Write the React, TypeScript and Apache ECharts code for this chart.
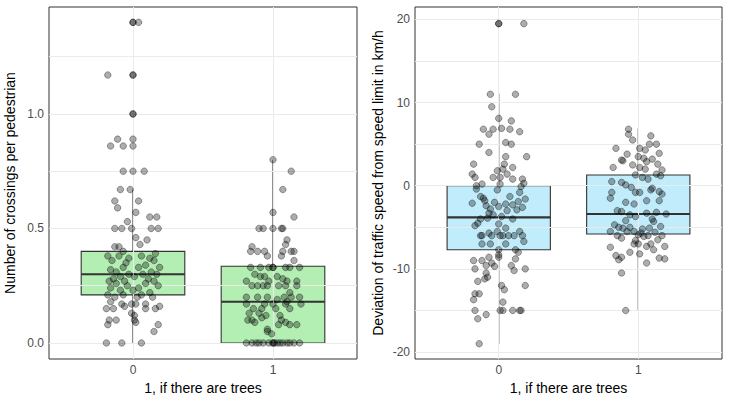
import React, { useEffect, useRef } from "react";
import * as echarts from "echarts";

const xLabel = "1, if there are trees";
const leftTitle = "Number of crossings per pedestrian";
const rightTitle = "Deviation of traffic speed from speed limit in km/h";
const categories = ["0", "1"];

// box stats: [x, q1, median, q3, whiskerLow, whiskerHigh]
const leftBoxes = [[0, 0.21, 0.3, 0.4, 0, 0.67], [1, 0, 0.18, 0.335, 0, 0.8]];
const rightBoxes = [[0, -7.7, -3.8, 0, -19, 11.1], [1, -5.8, -3.4, 1.3, -15, 6.9]];

const leftTicks = [0, 0.5, 1.0];
const leftGrid = [0, 0.25, 0.5, 0.75, 1.0, 1.25];
const rightTicks = [-20, -10, 0, 10, 20];
const rightGrid = [-20, -15, -10, -5, 0, 5, 10, 15, 20];

// [jitter, value]
const left0 = [[0,1.4],[0,1.4],[0.04,1.4],[-0.18,1.17],[0,1.17],[0,1.17],[0,1.0],[0,1.0],[-0.11,0.89],[0,0.89],[-0.16,0.86],[-0.07,0.86],[0,0.86],[-0.07,0.75],[0,0.75],[0.08,0.75],[-0.09,0.67],[-0.02,0.67],[-0.13,0.62],[0.04,0.62],[-0.11,0.59],[0.02,0.57],[0.12,0.55],[0.17,0.55],[-0.13,0.5],[-0.08,0.5],[-0.01,0.5],[0.13,0.5],[0.18,0.5],[-0.04,0.53],[0.02,0.46],[0.1,0.45],[0.05,0.43],[-0.13,0.42],[-0.1,0.42],[-0.07,0.4],[0.16,0.39],[-0.18,0.38],[-0.1,0.38],[-0.03,0.37],[0.06,0.38],[0.12,0.37],[0.15,0.36],[-0.15,0.36],[-0.05,0.35],[0.09,0.34],[0.19,0.33],[-0.07,0.33],[0.04,0.33],[-0.16,0.32],[-0.12,0.31],[0.13,0.31],[-0.03,0.3],[0.07,0.3],[0.17,0.3],[-0.09,0.29],[0.01,0.29],[0.11,0.28],[-0.14,0.28],[-0.17,0.27],[-0.06,0.27],[0.15,0.27],[0.09,0.26],[-0.12,0.26],[-0.04,0.25],[0.18,0.25],[0.04,0.24],[-0.16,0.24],[-0.09,0.23],[0,0.23],[0.12,0.22],[-0.18,0.21],[-0.07,0.21],[0.06,0.21],[-0.13,0.2],[0.03,0.2],[0.14,0.2],[-0.16,0.18],[-0.01,0.17],[0.09,0.17],[-0.08,0.17],[0.02,0.17],[-0.19,0.15],[-0.14,0.15],[-0.06,0.16],[0.09,0.15],[0.16,0.15],[0.19,0.16],[-0.01,0.13],[0.01,0.12],[-0.17,0.1],[-0.12,0.1],[0.01,0.1],[0.02,0.09],[-0.18,0.08],[0.18,0.08],[0.15,0.05],[-0.19,0],[-0.08,0],[0.06,0]];
const left1 = [[0,0.8],[0.13,0.75],[0.07,0.67],[0,0.57],[0.15,0.55],[-0.1,0.5],[-0.07,0.5],[0,0.5],[0.06,0.5],[0.07,0.5],[0.1,0.45],[0.09,0.43],[-0.15,0.42],[-0.16,0.4],[-0.11,0.4],[-0.06,0.4],[0.07,0.4],[0.13,0.4],[0.15,0.4],[-0.04,0.38],[0.06,0.38],[0.15,0.36],[-0.16,0.33],[-0.09,0.33],[-0.03,0.33],[0,0.33],[0,0.33],[0.09,0.33],[0.12,0.33],[0.19,0.33],[-0.13,0.3],[-0.09,0.29],[-0.06,0.29],[0.03,0.29],[0.07,0.28],[-0.19,0.27],[-0.03,0.27],[0.1,0.27],[0.17,0.27],[-0.15,0.25],[-0.11,0.25],[-0.07,0.25],[-0.04,0.25],[0.04,0.25],[0.09,0.25],[0.17,0.25],[0.12,0.22],[-0.19,0.2],[-0.11,0.2],[-0.04,0.2],[0.08,0.2],[0.13,0.2],[0.19,0.2],[0.03,0.19],[0.1,0.18],[-0.19,0.17],[-0.06,0.17],[0,0.17],[0.09,0.17],[0.2,0.17],[-0.14,0.15],[-0.08,0.15],[0.02,0.15],[0.12,0.15],[-0.17,0.13],[-0.1,0.13],[-0.05,0.12],[0.05,0.12],[-0.08,0.11],[-0.15,0.1],[0.06,0.1],[-0.13,0.09],[0.09,0.09],[0.12,0.08],[0.17,0.08],[-0.18,0.1],[0.04,0.08],[-0.04,0.06],[-0.04,0.05],[-0.01,0.04],[-0.19,0],[-0.15,0],[-0.12,0],[-0.1,0],[-0.07,0],[-0.03,0],[0,0],[0,0],[0.01,0],[0.03,0],[0.05,0],[0.07,0],[0.1,0],[0.12,0],[0.15,0],[0.19,0]];
const right0 = [[0,19.5],[0,19.5],[0.18,19.5],[-0.06,11],[0.12,11],[-0.05,9.5],[0,8.1],[0.09,7.8],[-0.11,6.8],[-0.04,6.8],[0.02,6.9],[0.08,6.8],[0.15,6.5],[-0.07,6.2],[-0.14,5],[0.05,5.2],[0.09,5],[-0.07,4],[0.05,3.5],[0.2,3.5],[0.04,2.6],[-0.18,2.6],[0.1,2.2],[0.03,2],[-0.01,1.8],[0.06,1.4],[-0.19,1.4],[-0.17,1],[-0.04,1],[0.01,1],[0.1,0.8],[0.17,0.8],[-0.16,0],[-0.12,0.2],[0.01,0.2],[0.18,0.3],[0.16,-0.1],[-0.16,-0.4],[-0.01,-0.5],[0.15,-0.8],[-0.13,-1.3],[-0.11,-1.5],[0.08,-1.3],[0.19,-1.6],[-0.1,-1.8],[0.14,-1.9],[-0.19,-2.1],[-0.03,-2.0],[0.05,-2.2],[0.1,-2.3],[-0.09,-2.4],[0,-2.5],[0.17,-2.6],[-0.06,-2.8],[0.13,-2.9],[0.06,-3],[-0.07,-3.3],[-0.04,-3.5],[0.02,-3.7],[-0.08,-3.9],[-0.13,-4],[0.1,-4],[-0.15,-4.5],[0,-4.6],[-0.17,-4.8],[0.05,-5.1],[-0.01,-5.5],[0.15,-5.5],[-0.07,-5.7],[-0.12,-6],[-0.13,-6],[-0.05,-6],[0.01,-6],[0.03,-6],[0.07,-6],[0.11,-6],[0.17,-6],[0.18,-6.7],[-0.12,-7],[-0.06,-7],[0.05,-7],[0,-7.7],[0.12,-7.7],[0.14,-8],[0,-8.3],[0,-8.6],[-0.07,-8.6],[-0.18,-9],[-0.12,-9],[-0.05,-9.3],[0.12,-8.8],[-0.09,-9.6],[-0.03,-9.7],[0.09,-9.6],[-0.17,-10],[0.19,-10],[0.11,-10.2],[-0.09,-10.5],[-0.08,-11],[-0.15,-11.5],[-0.1,-11.2],[0.02,-12],[0.19,-12],[0.04,-12.5],[-0.14,-13],[-0.17,-13],[-0.18,-13.7],[0.03,-14],[-0.17,-15],[0.01,-15],[0.03,-15],[0.1,-15],[0.15,-15],[0.16,-15],[-0.09,-15.5],[-0.15,-16],[-0.14,-19]];
const right1 = [[-0.07,6.8],[-0.07,6.2],[0.09,6],[-0.04,5.5],[0.08,5],[0.13,5],[0.01,4.5],[0.05,4.3],[-0.16,4.5],[0.15,3.9],[-0.08,3.8],[0,3.5],[0.04,3.3],[0.1,3.2],[-0.12,3.1],[-0.11,3],[0.06,2.9],[-0.04,2.5],[0.14,2.6],[-0.18,2.2],[0.01,2.2],[0.05,2],[0.17,1.9],[-0.02,1.3],[0.13,1.4],[0.16,1.2],[0.03,1],[0.07,0.8],[-0.19,0.5],[-0.12,0.4],[-0.09,0.1],[-0.05,-0.2],[0.1,-0.3],[0.09,-0.5],[0.15,-0.7],[0.01,-0.8],[-0.02,-0.8],[-0.19,-0.8],[0.17,-1],[-0.2,-1.5],[0.06,-1.8],[-0.09,-2],[-0.03,-2.2],[0.15,-1.8],[-0.15,-3],[-0.12,-3.1],[0.06,-3.3],[0.13,-3.2],[0.2,-3.4],[-0.06,-3.5],[-0.02,-3.7],[0.1,-4],[-0.09,-4.2],[0.11,-4.3],[-0.17,-4.7],[-0.14,-5],[-0.11,-5.1],[-0.06,-5],[0.03,-5.2],[0.08,-5.1],[0.16,-4.9],[-0.2,-5.5],[-0.08,-5.5],[-0.03,-5.5],[0.02,-5.7],[0,-5.9],[0.12,-5.6],[-0.15,-6],[0.07,-6],[0.17,-6],[-0.12,-6.3],[0.04,-6.1],[-0.02,-6.6],[-0.03,-7],[0,-7],[0.09,-7],[0.14,-6.5],[0.06,-7.3],[0.11,-7.7],[0.19,-7.3],[-0.2,-7.4],[-0.16,-8.4],[-0.06,-8],[0.01,-8.2],[0.15,-8.7],[-0.12,-8.6],[-0.14,-8.9],[0.19,-8.8],[0.06,-9.3],[-0.12,-10.5],[-0.09,-15]];

const FONT = "Liberation Sans, Arial, sans-serif";

function shift(pts: number[][], c: number) {
  return pts.map(([j, v]) => [c + j, v]);
}

function boxSeries(idx: number, boxes: number[][], fill: string) {
  return {
    type: "custom",
    xAxisIndex: idx,
    yAxisIndex: idx,
    z: 2,
    data: boxes,
    renderItem: (params: any, api: any) => {
      const x = api.value(0);
      const hw = 0.37;
      const q1 = api.coord([x, api.value(1)]);
      const med = api.coord([x, api.value(2)]);
      const q3 = api.coord([x, api.value(3)]);
      const lo = api.coord([x, api.value(4)]);
      const hi = api.coord([x, api.value(5)]);
      const l = api.coord([x - hw, 0])[0];
      const r = api.coord([x + hw, 0])[0];
      const ls = { stroke: "#333", lineWidth: 1.1 };
      return {
        type: "group",
        children: [
          { type: "line", shape: { x1: hi[0], y1: hi[1], x2: q3[0], y2: q3[1] }, style: ls },
          { type: "line", shape: { x1: lo[0], y1: lo[1], x2: q1[0], y2: q1[1] }, style: ls },
          { type: "rect", shape: { x: l, y: q3[1], width: r - l, height: q1[1] - q3[1] }, style: { fill, stroke: "#333", lineWidth: 1.1 } },
          { type: "line", shape: { x1: l, y1: med[1], x2: r, y2: med[1] }, style: { stroke: "#333", lineWidth: 2.2 } },
        ],
      };
    },
  };
}

function gridLines(idx: number, ys: number[]) {
  return {
    type: "scatter",
    xAxisIndex: idx,
    yAxisIndex: idx,
    data: [],
    silent: true,
    z: 0,
    markLine: {
      silent: true,
      symbol: "none",
      label: { show: false },
      lineStyle: { color: "#ebebeb", type: "solid", width: 1 },
      data: [...ys.map((y) => ({ yAxis: y })), { xAxis: 0 }, { xAxis: 1 }],
    },
  };
}

function pointSeries(idx: number, pts: number[][]) {
  return {
    type: "scatter",
    xAxisIndex: idx,
    yAxisIndex: idx,
    z: 5,
    symbolSize: 6.5,
    data: pts,
    itemStyle: { color: "rgba(0,0,0,0.4)", borderColor: "rgba(0,0,0,0.55)", borderWidth: 0.8 },
  };
}

export default function App() {
  const ref = useRef<HTMLDivElement>(null);
  useEffect(() => {
    const chart = echarts.init(ref.current!, null, { renderer: "svg" });
    const xAxisCommon = {
      type: "value",
      min: -0.6,
      max: 1.6,
      name: xLabel,
      nameLocation: "middle",
      nameGap: 22,
      nameTextStyle: { fontSize: 14, color: "#000", fontFamily: FONT },
      splitLine: { show: false },
      axisLine: { show: false },
      axisTick: { show: true, customValues: [0, 1], length: 3, lineStyle: { color: "#333" } },
      axisLabel: { customValues: [0, 1], formatter: (v: number) => categories[v], fontSize: 12, color: "#4d4d4d", fontFamily: FONT, margin: 5 },
    };
    const yCommon = {
      type: "value",
      nameLocation: "middle",
      nameTextStyle: { fontSize: 14, color: "#000", fontFamily: FONT },
      splitLine: { show: false },
      axisLine: { show: false },
      axisTick: { show: true, length: 3, lineStyle: { color: "#333" } },
    };
    chart.setOption({
      animation: false,
      grid: [
        { left: 49, top: 7, width: 308, height: 352, show: true, borderColor: "#333", borderWidth: 1, backgroundColor: "#fff" },
        { left: 415, top: 7, width: 307, height: 352, show: true, borderColor: "#333", borderWidth: 1, backgroundColor: "#fff" },
      ],
      xAxis: [
        { ...xAxisCommon, gridIndex: 0 },
        { ...xAxisCommon, gridIndex: 1 },
      ],
      yAxis: [
        {
          ...yCommon,
          gridIndex: 0,
          min: -0.07,
          max: 1.467,
          name: leftTitle,
          nameGap: 32,
          axisTick: { ...yCommon.axisTick, customValues: leftTicks },
          axisLabel: { customValues: leftTicks, formatter: (v: number) => v.toFixed(1), fontSize: 12, color: "#4d4d4d", fontFamily: FONT, margin: 5 },
        },
        {
          ...yCommon,
          gridIndex: 1,
          min: -20.84,
          max: 21.5,
          name: rightTitle,
          nameGap: 30,
          axisTick: { ...yCommon.axisTick, customValues: rightTicks },
          axisLabel: { customValues: rightTicks, formatter: (v: number) => String(v), fontSize: 12, color: "#4d4d4d", fontFamily: FONT, margin: 5 },
        },
      ],
      series: [
        gridLines(0, leftGrid),
        gridLines(1, rightGrid),
        boxSeries(0, leftBoxes, "#b3eeb3"),
        boxSeries(1, rightBoxes, "#c0ecfb"),
        pointSeries(0, shift(left0, 0)),
        pointSeries(0, shift(left1, 1)),
        pointSeries(1, shift(right0, 0)),
        pointSeries(1, shift(right1, 1)),
      ],
    });
    return () => chart.dispose();
  }, []);
  return <div ref={ref} style={{ position: "fixed", left: 0, top: 0, width: 730, height: 405, background: "#fff" }} />;
}
